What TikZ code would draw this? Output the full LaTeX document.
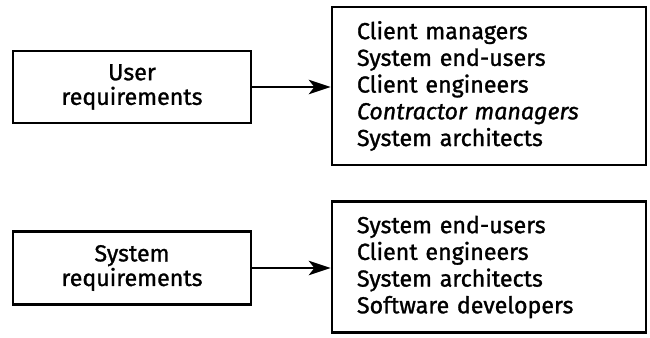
\documentclass[tikz,border=0pt]{standalone}
\usepackage{fontspec}
\setmainfont{Fira Sans}[FakeBold=1.2,UprightFeatures={FakeBold=1.2},ItalicFeatures={FakeBold=1.2}]
\usepackage{tikz}
\usetikzlibrary{arrows.meta, positioning}
\tikzstyle{arrow} = [line width=1.8pt,-{Stealth[length=0.55cm,width=0.36cm,inset=0.14cm]}]
\tikzset{every node/.style={align=center}}

\begin{document}
\begin{tikzpicture}[
    x=0.025cm, y=-0.025cm,
    reqbox/.style={draw, line width=1.7pt, minimum width=5.95cm, minimum height=1.8cm,
                   font=\fontsize{16.5}{17.5}\selectfont},
    listbox/.style={draw, line width=1.7pt, text width=6.6cm, inner xsep=0.625cm, align=left,
                    font=\fontsize{16.5}{19}\selectfont}
]
  \useasboundingbox (0,0) rectangle (650,337);

  % user requirements and who reads them
  \node (ureq)  at (132,87)  [reqbox] {User\\requirements};
  \node (ulist) at (489,86)  [listbox, minimum height=3.95cm]
        {Client managers\\System end-users\\Client engineers\\\textit{Contractor managers}\\System architects};

  % system requirements and who reads them
  \node (sreq)  at (132,268) [reqbox, minimum height=1.825cm] {System\\requirements};
  \node (slist) at (489,267) [listbox, minimum height=3.275cm]
        {System end-users\\Client engineers\\System architects\\Software developers};

  \draw[arrow] (ureq.east) -- (ureq.east -| ulist.west);
  \draw[arrow] (sreq.east) -- (sreq.east -| slist.west);
\end{tikzpicture}
\end{document}
